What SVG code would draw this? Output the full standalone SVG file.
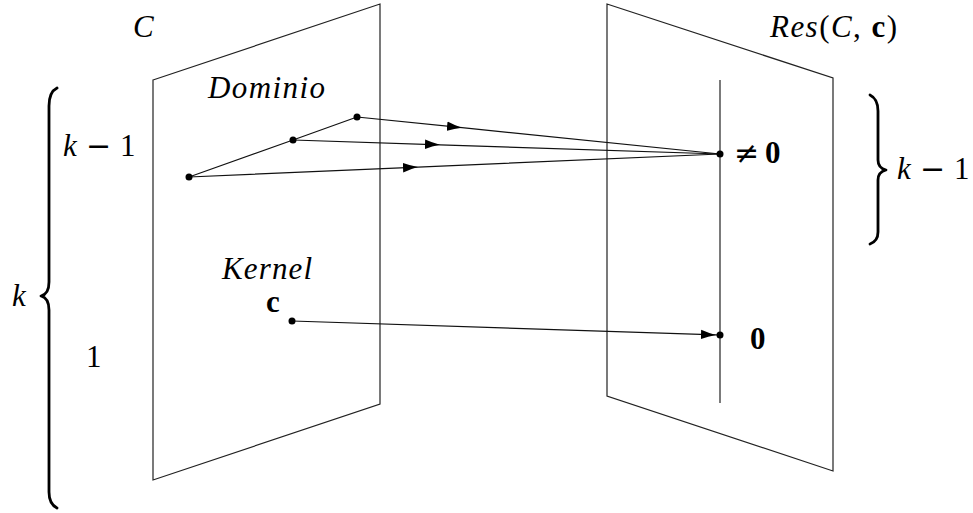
<svg xmlns="http://www.w3.org/2000/svg" width="973" height="513" viewBox="0 0 973 513">
  <style>
    .plane { fill: none; stroke: #222; stroke-width: 1.2; stroke-linejoin: miter; }
    .conn { fill: none; stroke: #111; stroke-width: 1.2; }
    .brace { fill: none; stroke: #000; stroke-width: 2.8; stroke-linecap: round; stroke-linejoin: round; }
    .dot { fill: #000; }
    text { font-family: "Liberation Serif", "DejaVu Serif", serif; font-size: 31px; fill: #000; }
    .it { font-style: italic; }
    .bf { font-weight: bold; }
    .op { font-family: "DejaVu Serif", serif; font-size: 30px; }
  </style>
  <defs>
    <marker id="arr" viewBox="0 0 15 10" refX="15" refY="5" markerWidth="15" markerHeight="10" markerUnits="userSpaceOnUse" orient="auto">
      <path d="M0,0.3 Q7,3.2 15,5 Q7,6.8 0,9.7 Z" fill="#000"/>
    </marker>
  </defs>

  <g id="plane-C">
    <polygon class="plane" points="153,80 380,4 380,404 153,480"/>
  </g>
  <g id="plane-Res">
    <polygon class="plane" points="607,4 833,78 833,471 607,396"/>
    <line class="plane" x1="720" y1="80" x2="720" y2="403"/>
  </g>

  <g id="labels">
    <text class="it" x="133" y="37">C</text>
    <text x="770" y="37" textLength="127" lengthAdjust="spacing"><tspan class="it">Res</tspan>(<tspan class="it">C</tspan>, <tspan class="bf">c</tspan>)</text>
    <text class="it" x="208" y="98" textLength="117" lengthAdjust="spacing">Dominio</text>
    <text class="it" x="222" y="279" textLength="90" lengthAdjust="spacing">Kernel</text>
    <text class="bf" x="266" y="312">c</text>
    <text x="734" y="163"><tspan class="op">≠</tspan><tspan class="bf" x="765">0</tspan></text>
    <text class="bf" x="750" y="349">0</text>
  </g>

  <g id="brace-left">
    <path class="brace" d="M57,88 Q49,92 49,106 L49,282 Q49,294 41,296 Q49,298 49,310 L49,492 Q49,504 57,508"/>
    <text x="63" y="156"><tspan class="it">k</tspan><tspan class="op" x="86">−</tspan><tspan x="120">1</tspan></text>
    <text class="it" x="12" y="306">k</text>
    <text x="86" y="367">1</text>
  </g>

  <g id="brace-right">
    <path class="brace" d="M870,95 Q878,99 878,111 L878,160 Q878,168 886,170 Q878,172 878,180 L878,232 Q878,241 870,244"/>
    <text x="897" y="179"><tspan class="it">k</tspan><tspan class="op" x="920">−</tspan><tspan x="954">1</tspan></text>
  </g>

  <g id="connectors">
    <path class="conn" d="M189,177 L293,140 L357,117"/>
    <path class="conn" marker-mid="url(#arr)" d="M357,117 L462,127.7 L720,154"/>
    <path class="conn" marker-mid="url(#arr)" d="M293,140 L440,144.8 L720,154"/>
    <path class="conn" marker-mid="url(#arr)" d="M189,177 L418,167.1 L720,154"/>
    <path class="conn" marker-mid="url(#arr)" d="M292,321 L716,334.9 L720,335"/>
  </g>

  <g id="points">
    <circle class="dot" cx="189" cy="177" r="3.5"/>
    <circle class="dot" cx="293" cy="140" r="3.5"/>
    <circle class="dot" cx="357" cy="117" r="3.5"/>
    <circle class="dot" cx="720" cy="154" r="3.5"/>
    <circle class="dot" cx="292" cy="321" r="3.5"/>
    <circle class="dot" cx="720" cy="335" r="3.5"/>
  </g>
</svg>
